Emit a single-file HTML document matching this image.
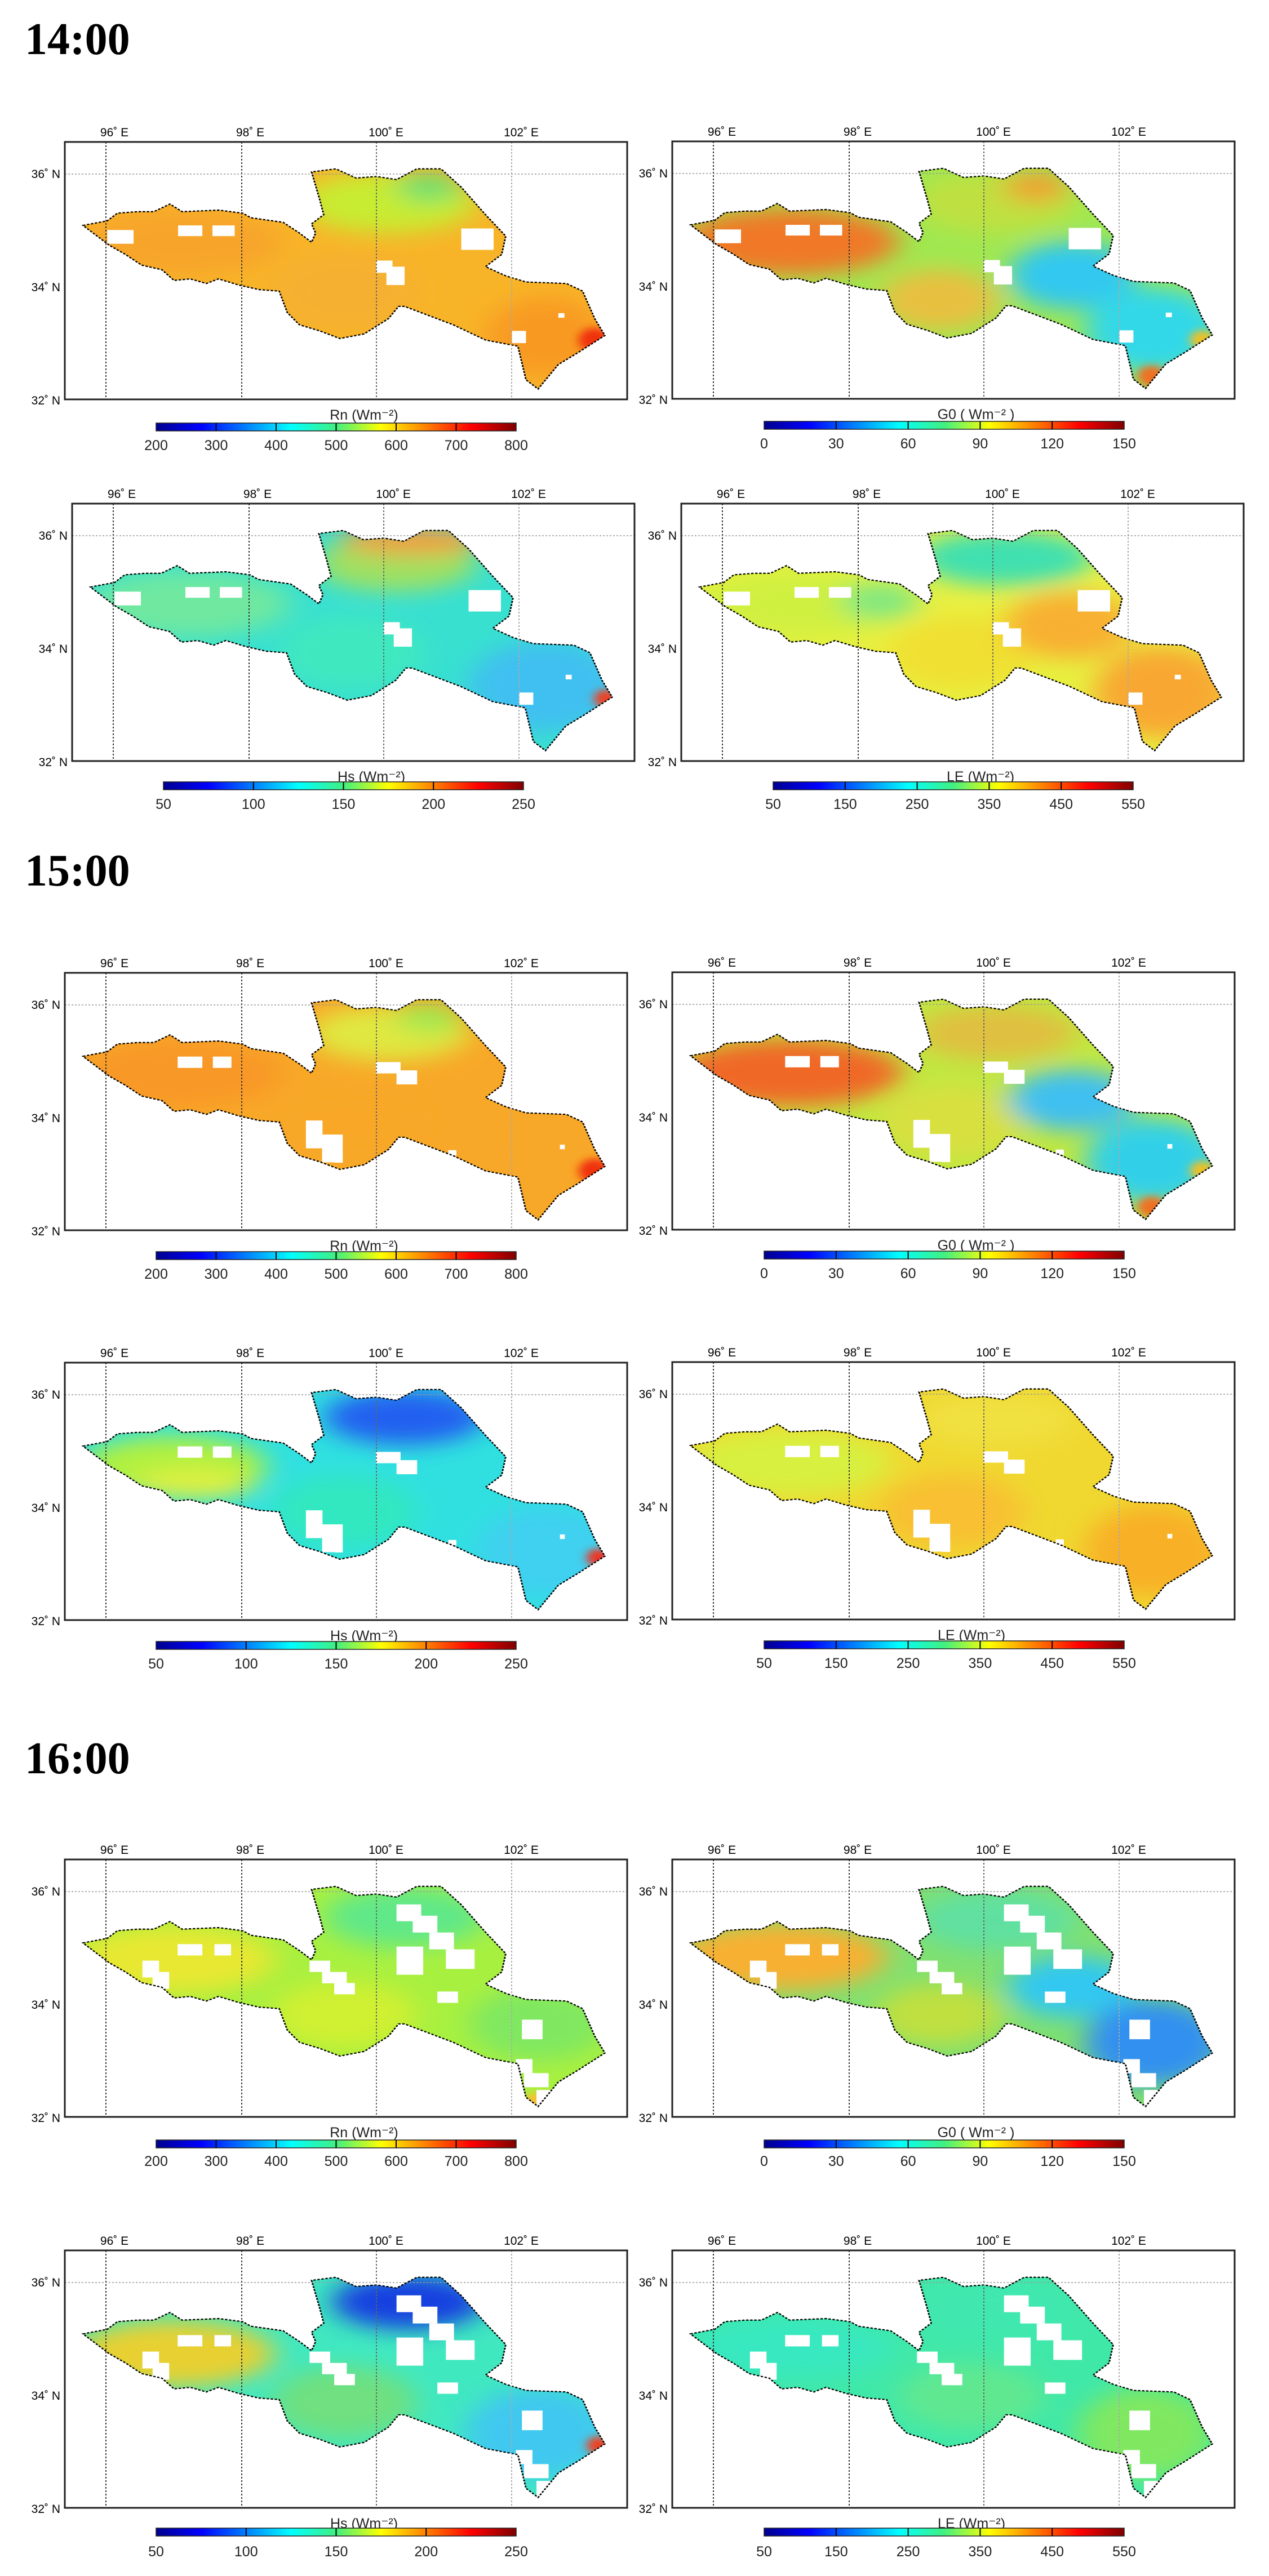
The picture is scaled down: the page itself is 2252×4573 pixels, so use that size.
<!DOCTYPE html>
<html><head><meta charset="utf-8">
<style>
html,body{margin:0;padding:0;background:#fff;}
body{width:2252px;height:4573px;position:relative;overflow:hidden;font-family:"Liberation Sans",sans-serif;}
.t{position:absolute;left:44px;font-family:"Liberation Serif",serif;font-weight:bold;font-size:80px;line-height:1;margin:0;}
svg.p{position:absolute;}
svg.p text{font-family:"Liberation Sans",sans-serif;fill:#222;}
.lon{font-size:21px;text-anchor:middle;}
.lat{font-size:21px;text-anchor:end;}
.cbt{font-size:25px;text-anchor:middle;}
.cbl{font-size:25px;text-anchor:middle;}
</style></head><body>
<svg width="0" height="0" style="position:absolute">
<defs>
<path id="shp" d="M205,735 L265,720 L290,695 L340,690 L380,690 L420,665 L450,690 L540,685 L600,695 L620,710 L700,725 L740,760 L770,790 L780,760 L770,730 L800,700 L790,650 L770,560 L830,550 L880,580 L930,575 L980,585 L1030,550 L1090,550 L1140,610 L1200,700 L1250,770 L1240,830 L1200,870 L1250,900 L1300,920 L1400,925 L1440,950 L1470,1040 L1495,1095 L1430,1150 L1380,1190 L1330,1270 L1300,1240 L1280,1130 L1200,1110 L1120,1060 L1060,1030 L1000,1000 L985,1000 L960,1040 L900,1090 L840,1105 L790,1080 L740,1060 L710,1020 L690,950 L640,945 L590,930 L540,910 L510,925 L470,910 L430,915 L400,880 L350,865 L310,830 L270,800 L230,760 Z"/>
<clipPath id="cp"><use href="#shp"/></clipPath>
<filter id="bl" x="-50%" y="-50%" width="200%" height="200%"><feGaussianBlur stdDeviation="35"/></filter>
<filter id="bs" x="-50%" y="-50%" width="200%" height="200%"><feGaussianBlur stdDeviation="12"/></filter>
<linearGradient id="jet" x1="0" y1="0" x2="1" y2="0">
<stop offset="0" stop-color="#00008f"/><stop offset="0.125" stop-color="#0000ff"/><stop offset="0.375" stop-color="#00ffff"/><stop offset="0.5" stop-color="#40f080"/><stop offset="0.625" stop-color="#ffff00"/><stop offset="0.875" stop-color="#ff0000"/><stop offset="1" stop-color="#800000"/>
</linearGradient>
<g id="grid">
<line x1="73" y1="0" x2="73" y2="457" stroke="#333" stroke-width="2" stroke-dasharray="3,3"/>
<line x1="314" y1="0" x2="314" y2="457" stroke="#333" stroke-width="2" stroke-dasharray="3,3"/>
<line x1="553" y1="0" x2="553" y2="457" stroke="#666" stroke-width="2" stroke-dasharray="3,3"/>
<line x1="793" y1="0" x2="793" y2="457" stroke="#aaa" stroke-width="2" stroke-dasharray="3,3"/>
<line x1="0" y1="57" x2="998" y2="57" stroke="#999" stroke-width="1.5" stroke-dasharray="3,3"/>
<rect x="0" y="0" width="998" height="457" fill="none" stroke="#222" stroke-width="3"/>
</g>
<g id="gap14" fill="#fff"><rect x="440" y="735" width="60" height="35"/><rect x="525" y="735" width="55" height="35"/><rect x="265" y="750" width="65" height="45"/><rect x="930" y="850" width="40" height="40"/><rect x="955" y="870" width="45" height="60"/><rect x="1140" y="745" width="80" height="70"/><rect x="1170" y="745" width="25" height="40"/><rect x="1265" y="1080" width="35" height="40"/><rect x="1380" y="1022" width="15" height="15"/></g>
<g id="gap15" fill="#fff"><rect x="439" y="736" width="61" height="37"/><rect x="526" y="736" width="46" height="37"/><rect x="929" y="754" width="61" height="37"/><rect x="980" y="781" width="51" height="46"/><rect x="756" y="945" width="41" height="91"/><rect x="796" y="991" width="51" height="91"/><rect x="827" y="1046" width="20" height="37"/><rect x="1108" y="1042" width="20" height="18"/><rect x="1384" y="1024" width="12" height="15"/></g>
<g id="gap16" fill="#fff"><rect x="980" y="609" width="61" height="55"/><rect x="1020" y="646" width="61" height="55"/><rect x="1061" y="701" width="61" height="55"/><rect x="1102" y="756" width="71" height="64"/><rect x="980" y="747" width="66" height="92"/><rect x="765" y="793" width="51" height="37"/><rect x="796" y="830" width="61" height="37"/><rect x="826" y="866" width="51" height="37"/><rect x="1081" y="894" width="51" height="37"/><rect x="1290" y="986" width="51" height="64"/><rect x="1275" y="1115" width="41" height="46"/><rect x="1295" y="1161" width="61" height="46"/><rect x="1326" y="1216" width="41" height="55"/><rect x="352" y="793" width="41" height="55"/><rect x="377" y="830" width="41" height="55"/><rect x="439" y="739" width="61" height="37"/><rect x="530" y="739" width="41" height="37"/></g>
<g id="ticks">
<text class="lon" x="88" y="-10">96˚ E</text><text class="lon" x="329" y="-10">98˚ E</text><text class="lon" x="570" y="-10">100˚ E</text><text class="lon" x="810" y="-10">102˚ E</text>
<text class="lat" x="-8" y="64">36˚ N</text><text class="lat" x="-8" y="265">34˚ N</text><text class="lat" x="-8" y="466">32˚ N</text>
</g>
</defs></svg>

<div class="t" style="top:30px">14:00</div>
<div class="t" style="top:1506px">15:00</div>
<div class="t" style="top:3082px">16:00</div>

<!-- 14:00 Rn -->
<svg class="p" style="left:15px;top:207px" width="1110" height="600"><g transform="translate(100,45)">
<g transform="scale(.7179,.5427) translate(-160,-462)"><g clip-path="url(#cp)"><rect x="150" y="500" width="1400" height="800" fill="#f8b428"/><g filter="url(#bl)"><ellipse cx="450" cy="790" rx="250" ry="110" fill="#f7a52a"/><ellipse cx="960" cy="660" rx="220" ry="100" fill="#c8ec30"/><ellipse cx="1060" cy="610" rx="80" ry="50" fill="#70e070"/><ellipse cx="850" cy="950" rx="180" ry="120" fill="#f5b030"/><ellipse cx="1350" cy="1100" rx="150" ry="130" fill="#f89a20"/></g><ellipse filter="url(#bs)" cx="1470" cy="1110" rx="40" ry="40" fill="#f03010"/><use href="#gap14"/></g><use href="#shp" fill="none" stroke="#000" stroke-width="4" stroke-dasharray="6,4"/></g>
<use href="#grid"/><use href="#ticks"/>
<text class="cbt" x="531" y="493">Rn (Wm⁻²)</text>
<rect x="162" y="499" width="639" height="14" fill="url(#jet)" stroke="#222" stroke-width="1.5"/>
<g stroke="#000" stroke-width="2"><line x1="268.5" y1="499" x2="268.5" y2="513"/><line x1="375" y1="499" x2="375" y2="513"/><line x1="481.5" y1="499" x2="481.5" y2="513"/><line x1="588" y1="499" x2="588" y2="513"/><line x1="694.5" y1="499" x2="694.5" y2="513"/></g>
<text class="cbl" x="162" y="547">200</text><text class="cbl" x="268.5" y="547">300</text><text class="cbl" x="375" y="547">400</text><text class="cbl" x="481.5" y="547">500</text><text class="cbl" x="588" y="547">600</text><text class="cbl" x="694.5" y="547">700</text><text class="cbl" x="801" y="547">800</text>
</g></svg>

<!-- 14:00 G0 -->
<svg class="p" style="left:1093px;top:206px" width="1110" height="600"><g transform="translate(100,45)">
<g transform="scale(.7179,.5427) translate(-160,-462)"><g clip-path="url(#cp)"><rect x="150" y="500" width="1400" height="800" fill="#a0e850"/><g filter="url(#bl)"><ellipse cx="450" cy="790" rx="270" ry="110" fill="#f07828"/><ellipse cx="960" cy="660" rx="200" ry="100" fill="#c0e040"/><ellipse cx="1060" cy="610" rx="80" ry="50" fill="#f0a030"/><ellipse cx="820" cy="980" rx="150" ry="100" fill="#e8c040"/><ellipse cx="1150" cy="900" rx="160" ry="110" fill="#30c8f0"/><ellipse cx="1350" cy="1080" rx="170" ry="140" fill="#30d8e8"/></g><ellipse filter="url(#bs)" cx="1470" cy="1110" rx="30" ry="30" fill="#f0c020"/><ellipse filter="url(#bs)" cx="1345" cy="1230" rx="35" ry="35" fill="#f07020"/><use href="#gap14"/></g><use href="#shp" fill="none" stroke="#000" stroke-width="4" stroke-dasharray="6,4"/></g>
<use href="#grid"/><use href="#ticks"/>
<text class="cbt" x="539" y="493">G0 ( Wm⁻² )</text>
<rect x="163" y="497" width="639" height="14" fill="url(#jet)" stroke="#222" stroke-width="1.5"/>
<g stroke="#000" stroke-width="2"><line x1="290.8" y1="497" x2="290.8" y2="511"/><line x1="418.6" y1="497" x2="418.6" y2="511"/><line x1="546.4" y1="497" x2="546.4" y2="511"/><line x1="674.2" y1="497" x2="674.2" y2="511"/></g>
<text class="cbl" x="163" y="545">0</text><text class="cbl" x="290.8" y="545">30</text><text class="cbl" x="418.6" y="545">60</text><text class="cbl" x="546.4" y="545">90</text><text class="cbl" x="674.2" y="545">120</text><text class="cbl" x="802" y="545">150</text>
</g></svg>

<!-- 14:00 Hs -->
<svg class="p" style="left:28px;top:849px" width="1110" height="600"><g transform="translate(100,45)">
<g transform="scale(.7179,.5427) translate(-160,-462)"><g clip-path="url(#cp)"><rect x="150" y="500" width="1400" height="800" fill="#38e0d0"/><g filter="url(#bl)"><ellipse cx="450" cy="790" rx="250" ry="110" fill="#70e8a0"/><ellipse cx="960" cy="660" rx="200" ry="90" fill="#a0e060"/><ellipse cx="1000" cy="580" rx="180" ry="50" fill="#f0a040"/><ellipse cx="850" cy="950" rx="180" ry="120" fill="#40e8c0"/><ellipse cx="1330" cy="1060" rx="190" ry="150" fill="#40c0f0"/></g><ellipse filter="url(#bs)" cx="1480" cy="1100" rx="30" ry="30" fill="#f04020"/><use href="#gap14"/></g><use href="#shp" fill="none" stroke="#000" stroke-width="4" stroke-dasharray="6,4"/></g>
<use href="#grid"/><use href="#ticks"/>
<text class="cbt" x="531" y="493">Hs (Wm⁻²)</text>
<rect x="162" y="494" width="639" height="14" fill="url(#jet)" stroke="#222" stroke-width="1.5"/>
<g stroke="#000" stroke-width="2"><line x1="321.75" y1="494" x2="321.75" y2="508"/><line x1="481.5" y1="494" x2="481.5" y2="508"/><line x1="641.25" y1="494" x2="641.25" y2="508"/></g>
<text class="cbl" x="162" y="542">50</text><text class="cbl" x="321.75" y="542">100</text><text class="cbl" x="481.5" y="542">150</text><text class="cbl" x="641.25" y="542">200</text><text class="cbl" x="801" y="542">250</text>
</g></svg>

<!-- 14:00 LE -->
<svg class="p" style="left:1109px;top:849px" width="1110" height="600"><g transform="translate(100,45)">
<g transform="scale(.7179,.5427) translate(-160,-462)"><g clip-path="url(#cp)"><rect x="150" y="500" width="1400" height="800" fill="#e8f040"/><g filter="url(#bl)"><ellipse cx="450" cy="790" rx="250" ry="110" fill="#d0f040"/><ellipse cx="960" cy="640" rx="220" ry="90" fill="#40e0b0"/><ellipse cx="650" cy="780" rx="100" ry="60" fill="#80e880"/><ellipse cx="850" cy="950" rx="180" ry="120" fill="#f0e030"/><ellipse cx="1120" cy="860" rx="160" ry="110" fill="#f8b030"/><ellipse cx="1350" cy="1080" rx="170" ry="150" fill="#f8a830"/></g><use href="#gap14"/></g><use href="#shp" fill="none" stroke="#000" stroke-width="4" stroke-dasharray="6,4"/></g>
<use href="#grid"/><use href="#ticks"/>
<text class="cbt" x="531" y="493">LE (Wm⁻²)</text>
<rect x="163" y="494" width="639" height="14" fill="url(#jet)" stroke="#222" stroke-width="1.5"/>
<g stroke="#000" stroke-width="2"><line x1="290.8" y1="494" x2="290.8" y2="508"/><line x1="418.6" y1="494" x2="418.6" y2="508"/><line x1="546.4" y1="494" x2="546.4" y2="508"/><line x1="674.2" y1="494" x2="674.2" y2="508"/></g>
<text class="cbl" x="163" y="542">50</text><text class="cbl" x="290.8" y="542">150</text><text class="cbl" x="418.6" y="542">250</text><text class="cbl" x="546.4" y="542">350</text><text class="cbl" x="674.2" y="542">450</text><text class="cbl" x="802" y="542">550</text>
</g></svg>

<!-- 15:00 Rn -->
<svg class="p" style="left:15px;top:1682px" width="1110" height="600"><g transform="translate(100,45)">
<g transform="scale(.7179,.5427) translate(-160,-462)"><g clip-path="url(#cp)"><rect x="150" y="500" width="1400" height="800" fill="#f8a828"/><g filter="url(#bl)"><ellipse cx="450" cy="790" rx="250" ry="110" fill="#f89828"/><ellipse cx="960" cy="660" rx="200" ry="90" fill="#e0e840"/><ellipse cx="1060" cy="610" rx="80" ry="50" fill="#a0e850"/><ellipse cx="850" cy="950" rx="180" ry="120" fill="#f8a828"/></g><ellipse filter="url(#bs)" cx="1470" cy="1110" rx="40" ry="40" fill="#f03010"/><use href="#gap15"/></g><use href="#shp" fill="none" stroke="#000" stroke-width="4" stroke-dasharray="6,4"/></g>
<use href="#grid"/><use href="#ticks"/>
<text class="cbt" x="531" y="493">Rn (Wm⁻²)</text>
<rect x="162" y="495" width="639" height="14" fill="url(#jet)" stroke="#222" stroke-width="1.5"/>
<g stroke="#000" stroke-width="2"><line x1="268.5" y1="495" x2="268.5" y2="509"/><line x1="375" y1="495" x2="375" y2="509"/><line x1="481.5" y1="495" x2="481.5" y2="509"/><line x1="588" y1="495" x2="588" y2="509"/><line x1="694.5" y1="495" x2="694.5" y2="509"/></g>
<text class="cbl" x="162" y="543">200</text><text class="cbl" x="268.5" y="543">300</text><text class="cbl" x="375" y="543">400</text><text class="cbl" x="481.5" y="543">500</text><text class="cbl" x="588" y="543">600</text><text class="cbl" x="694.5" y="543">700</text><text class="cbl" x="801" y="543">800</text>
</g></svg>

<!-- 15:00 G0 -->
<svg class="p" style="left:1093px;top:1681px" width="1110" height="600"><g transform="translate(100,45)">
<g transform="scale(.7179,.5427) translate(-160,-462)"><g clip-path="url(#cp)"><rect x="150" y="500" width="1400" height="800" fill="#c0e840"/><g filter="url(#bl)"><ellipse cx="450" cy="790" rx="280" ry="110" fill="#f06828"/><ellipse cx="960" cy="660" rx="200" ry="90" fill="#e0c040"/><ellipse cx="850" cy="950" rx="180" ry="120" fill="#d8e040"/><ellipse cx="1150" cy="880" rx="160" ry="100" fill="#40c0f0"/><ellipse cx="1350" cy="1080" rx="170" ry="140" fill="#30d0e8"/></g><ellipse filter="url(#bs)" cx="1470" cy="1110" rx="30" ry="30" fill="#f0c020"/><ellipse filter="url(#bs)" cx="1345" cy="1230" rx="35" ry="35" fill="#f07020"/><use href="#gap15"/></g><use href="#shp" fill="none" stroke="#000" stroke-width="4" stroke-dasharray="6,4"/></g>
<use href="#grid"/><use href="#ticks"/>
<text class="cbt" x="539" y="493">G0 ( Wm⁻² )</text>
<rect x="163" y="495" width="639" height="14" fill="url(#jet)" stroke="#222" stroke-width="1.5"/>
<g stroke="#000" stroke-width="2"><line x1="290.8" y1="495" x2="290.8" y2="509"/><line x1="418.6" y1="495" x2="418.6" y2="509"/><line x1="546.4" y1="495" x2="546.4" y2="509"/><line x1="674.2" y1="495" x2="674.2" y2="509"/></g>
<text class="cbl" x="163" y="543">0</text><text class="cbl" x="290.8" y="543">30</text><text class="cbl" x="418.6" y="543">60</text><text class="cbl" x="546.4" y="543">90</text><text class="cbl" x="674.2" y="543">120</text><text class="cbl" x="802" y="543">150</text>
</g></svg>

<!-- 15:00 Hs -->
<svg class="p" style="left:15px;top:2374px" width="1110" height="600"><g transform="translate(100,45)">
<g transform="scale(.7179,.5427) translate(-160,-462)"><g clip-path="url(#cp)"><rect x="150" y="500" width="1400" height="800" fill="#30e0e0"/><g filter="url(#bl)"><ellipse cx="430" cy="800" rx="230" ry="100" fill="#b0f040"/><ellipse cx="480" cy="860" rx="150" ry="50" fill="#e0f040"/><ellipse cx="1000" cy="640" rx="200" ry="90" fill="#2060f0"/><ellipse cx="850" cy="950" rx="180" ry="120" fill="#30e8c0"/><ellipse cx="1350" cy="1080" rx="170" ry="150" fill="#40d0f0"/></g><ellipse filter="url(#bs)" cx="1480" cy="1100" rx="30" ry="30" fill="#f03020"/><use href="#gap15"/></g><use href="#shp" fill="none" stroke="#000" stroke-width="4" stroke-dasharray="6,4"/></g>
<use href="#grid"/><use href="#ticks"/>
<text class="cbt" x="531" y="493">Hs (Wm⁻²)</text>
<rect x="162" y="495" width="639" height="14" fill="url(#jet)" stroke="#222" stroke-width="1.5"/>
<g stroke="#000" stroke-width="2"><line x1="321.75" y1="495" x2="321.75" y2="509"/><line x1="481.5" y1="495" x2="481.5" y2="509"/><line x1="641.25" y1="495" x2="641.25" y2="509"/></g>
<text class="cbl" x="162" y="543">50</text><text class="cbl" x="321.75" y="543">100</text><text class="cbl" x="481.5" y="543">150</text><text class="cbl" x="641.25" y="543">200</text><text class="cbl" x="801" y="543">250</text>
</g></svg>

<!-- 15:00 LE -->
<svg class="p" style="left:1093px;top:2373px" width="1110" height="600"><g transform="translate(100,45)">
<g transform="scale(.7179,.5427) translate(-160,-462)"><g clip-path="url(#cp)"><rect x="150" y="500" width="1400" height="800" fill="#f0d830"/><g filter="url(#bl)"><ellipse cx="450" cy="790" rx="250" ry="110" fill="#d8f040"/><ellipse cx="960" cy="650" rx="200" ry="90" fill="#f0e040"/><ellipse cx="850" cy="950" rx="180" ry="120" fill="#f8c030"/><ellipse cx="1350" cy="1080" rx="170" ry="150" fill="#f8b028"/></g><use href="#gap15"/></g><use href="#shp" fill="none" stroke="#000" stroke-width="4" stroke-dasharray="6,4"/></g>
<use href="#grid"/><use href="#ticks"/>
<text class="cbt" x="531" y="493">LE (Wm⁻²)</text>
<rect x="163" y="495" width="639" height="14" fill="url(#jet)" stroke="#222" stroke-width="1.5"/>
<g stroke="#000" stroke-width="2"><line x1="290.8" y1="495" x2="290.8" y2="509"/><line x1="418.6" y1="495" x2="418.6" y2="509"/><line x1="546.4" y1="495" x2="546.4" y2="509"/><line x1="674.2" y1="495" x2="674.2" y2="509"/></g>
<text class="cbl" x="163" y="543">50</text><text class="cbl" x="290.8" y="543">150</text><text class="cbl" x="418.6" y="543">250</text><text class="cbl" x="546.4" y="543">350</text><text class="cbl" x="674.2" y="543">450</text><text class="cbl" x="802" y="543">550</text>
</g></svg>

<!-- 16:00 Rn -->
<svg class="p" style="left:15px;top:3256px" width="1110" height="600"><g transform="translate(100,45)">
<g transform="scale(.7179,.5427) translate(-160,-462)"><g clip-path="url(#cp)"><rect x="150" y="500" width="1400" height="800" fill="#a8f040"/><g filter="url(#bl)"><ellipse cx="430" cy="790" rx="250" ry="110" fill="#e8e830"/><ellipse cx="1000" cy="650" rx="200" ry="100" fill="#60e888"/><ellipse cx="850" cy="970" rx="180" ry="110" fill="#d0f030"/><ellipse cx="1330" cy="1000" rx="170" ry="120" fill="#80e860"/></g><ellipse filter="url(#bs)" cx="1330" cy="1255" rx="40" ry="30" fill="#f8c030"/><use href="#gap16"/></g><use href="#shp" fill="none" stroke="#000" stroke-width="4" stroke-dasharray="6,4"/></g>
<use href="#grid"/><use href="#ticks"/>
<text class="cbt" x="531" y="493">Rn (Wm⁻²)</text>
<rect x="162" y="498" width="639" height="14" fill="url(#jet)" stroke="#222" stroke-width="1.5"/>
<g stroke="#000" stroke-width="2"><line x1="268.5" y1="498" x2="268.5" y2="512"/><line x1="375" y1="498" x2="375" y2="512"/><line x1="481.5" y1="498" x2="481.5" y2="512"/><line x1="588" y1="498" x2="588" y2="512"/><line x1="694.5" y1="498" x2="694.5" y2="512"/></g>
<text class="cbl" x="162" y="544">200</text><text class="cbl" x="268.5" y="544">300</text><text class="cbl" x="375" y="544">400</text><text class="cbl" x="481.5" y="544">500</text><text class="cbl" x="588" y="544">600</text><text class="cbl" x="694.5" y="544">700</text><text class="cbl" x="801" y="544">800</text>
</g></svg>

<!-- 16:00 G0 -->
<svg class="p" style="left:1093px;top:3256px" width="1110" height="600"><g transform="translate(100,45)">
<g transform="scale(.7179,.5427) translate(-160,-462)"><g clip-path="url(#cp)"><rect x="150" y="500" width="1400" height="800" fill="#80e070"/><g filter="url(#bl)"><ellipse cx="430" cy="780" rx="260" ry="110" fill="#f8b030"/><ellipse cx="960" cy="660" rx="200" ry="100" fill="#60e0a0"/><ellipse cx="820" cy="970" rx="160" ry="100" fill="#c0e040"/><ellipse cx="1150" cy="880" rx="160" ry="100" fill="#30c8f0"/><ellipse cx="1350" cy="1060" rx="170" ry="140" fill="#3090f0"/></g><use href="#gap16"/></g><use href="#shp" fill="none" stroke="#000" stroke-width="4" stroke-dasharray="6,4"/></g>
<use href="#grid"/><use href="#ticks"/>
<text class="cbt" x="539" y="493">G0 ( Wm⁻² )</text>
<rect x="163" y="498" width="639" height="14" fill="url(#jet)" stroke="#222" stroke-width="1.5"/>
<g stroke="#000" stroke-width="2"><line x1="290.8" y1="498" x2="290.8" y2="512"/><line x1="418.6" y1="498" x2="418.6" y2="512"/><line x1="546.4" y1="498" x2="546.4" y2="512"/><line x1="674.2" y1="498" x2="674.2" y2="512"/></g>
<text class="cbl" x="163" y="544">0</text><text class="cbl" x="290.8" y="544">30</text><text class="cbl" x="418.6" y="544">60</text><text class="cbl" x="546.4" y="544">90</text><text class="cbl" x="674.2" y="544">120</text><text class="cbl" x="802" y="544">150</text>
</g></svg>

<!-- 16:00 Hs -->
<svg class="p" style="left:15px;top:3950px" width="1110" height="600"><g transform="translate(100,45)">
<g transform="scale(.7179,.5427) translate(-160,-462)"><g clip-path="url(#cp)"><rect x="150" y="500" width="1400" height="800" fill="#40e8c0"/><g filter="url(#bl)"><ellipse cx="430" cy="800" rx="250" ry="110" fill="#e8d030"/><ellipse cx="1010" cy="630" rx="190" ry="90" fill="#1840e0"/><ellipse cx="850" cy="960" rx="180" ry="120" fill="#70e080"/><ellipse cx="1330" cy="1060" rx="180" ry="150" fill="#40c8f0"/></g><ellipse filter="url(#bs)" cx="1480" cy="1100" rx="30" ry="30" fill="#f04020"/><use href="#gap16"/></g><use href="#shp" fill="none" stroke="#000" stroke-width="4" stroke-dasharray="6,4"/></g>
<use href="#grid"/><use href="#ticks"/>
<text class="cbt" x="531" y="493">Hs (Wm⁻²)</text>
<rect x="162" y="493" width="639" height="14" fill="url(#jet)" stroke="#222" stroke-width="1.5"/>
<g stroke="#000" stroke-width="2"><line x1="321.75" y1="493" x2="321.75" y2="507"/><line x1="481.5" y1="493" x2="481.5" y2="507"/><line x1="641.25" y1="493" x2="641.25" y2="507"/></g>
<text class="cbl" x="162" y="543">50</text><text class="cbl" x="321.75" y="543">100</text><text class="cbl" x="481.5" y="543">150</text><text class="cbl" x="641.25" y="543">200</text><text class="cbl" x="801" y="543">250</text>
</g></svg>

<!-- 16:00 LE -->
<svg class="p" style="left:1093px;top:3950px" width="1110" height="600"><g transform="translate(100,45)">
<g transform="scale(.7179,.5427) translate(-160,-462)"><g clip-path="url(#cp)"><rect x="150" y="500" width="1400" height="800" fill="#40e8a8"/><g filter="url(#bl)"><ellipse cx="450" cy="780" rx="250" ry="100" fill="#38e8c0"/><ellipse cx="960" cy="660" rx="200" ry="100" fill="#40e8b0"/><ellipse cx="900" cy="940" rx="180" ry="110" fill="#60e890"/><ellipse cx="1330" cy="1060" rx="170" ry="150" fill="#80e860"/></g><use href="#gap16"/></g><use href="#shp" fill="none" stroke="#000" stroke-width="4" stroke-dasharray="6,4"/></g>
<use href="#grid"/><use href="#ticks"/>
<text class="cbt" x="531" y="493">LE (Wm⁻²)</text>
<rect x="163" y="493" width="639" height="14" fill="url(#jet)" stroke="#222" stroke-width="1.5"/>
<g stroke="#000" stroke-width="2"><line x1="290.8" y1="493" x2="290.8" y2="507"/><line x1="418.6" y1="493" x2="418.6" y2="507"/><line x1="546.4" y1="493" x2="546.4" y2="507"/><line x1="674.2" y1="493" x2="674.2" y2="507"/></g>
<text class="cbl" x="163" y="543">50</text><text class="cbl" x="290.8" y="543">150</text><text class="cbl" x="418.6" y="543">250</text><text class="cbl" x="546.4" y="543">350</text><text class="cbl" x="674.2" y="543">450</text><text class="cbl" x="802" y="543">550</text>
</g></svg>

</body></html>
